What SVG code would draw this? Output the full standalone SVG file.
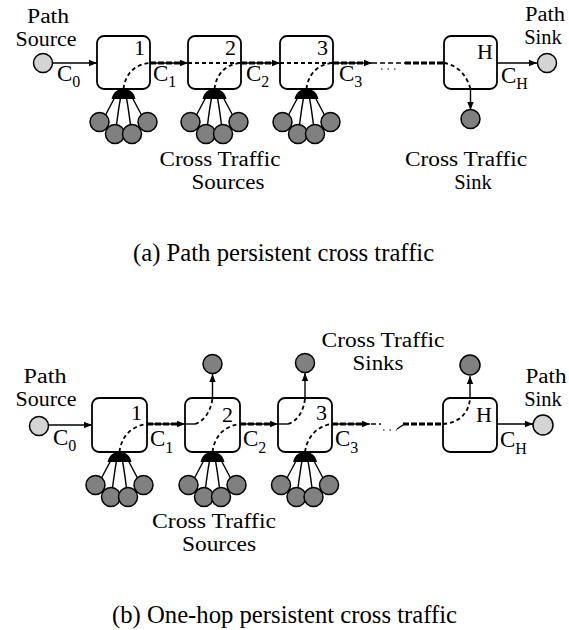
<svg xmlns="http://www.w3.org/2000/svg" xmlns:xlink="http://www.w3.org/1999/xlink" width="569" height="630" viewBox="0 0 569 630">
<style>
.box{fill:#fff;stroke:#000;stroke-width:1.8}
.src{fill:#808080;stroke:#000;stroke-width:1.5}
.end{fill:#d4d4d4;stroke:#000;stroke-width:1.5}
.ln{stroke:#000;stroke-width:1.4;fill:none}
.dsh{stroke:#000;stroke-width:1.8;fill:none;stroke-dasharray:4 3}
.lnk{stroke:#000;stroke-width:3;stroke-dasharray:6 2;fill:none}
.thin{stroke:#000;stroke-width:1.4;fill:none;stroke-dasharray:5 3}
.dots{stroke:#555;stroke-width:1.6;fill:none;stroke-dasharray:1.5 5}
text{font-family:"Liberation Serif","Times New Roman",serif;font-size:23px;fill:#000}
.lbl{font-size:20.5px}
.num{font-size:22px}
.cap{font-size:24.7px}
</style>
<defs>
<marker id="ah" viewBox="0 0 10 10" refX="10" refY="5" markerWidth="9" markerHeight="8" markerUnits="userSpaceOnUse" orient="auto">
<path d="M0,1 L10,5 L0,9 z" fill="#000"/>
</marker>
<g id="fan">
<path d="M-12,10 C-10,2 -5,0 0,0 C5,0 10,2 12,10 Z" fill="#000"/>
<path class="ln" d="M-9,9 L-18,26"/>
<path class="ln" d="M-3,9 Q-5,20 -7,36"/>
<path class="ln" d="M3,9 Q5,20 7,36"/>
<path class="ln" d="M9,9 L18,26"/>
<circle class="src" cx="-24" cy="33" r="9.5"/>
<circle class="src" cx="-8.5" cy="45" r="9.5"/>
<circle class="src" cx="8.5" cy="45" r="9.5"/>
<circle class="src" cx="24" cy="33" r="9.5"/>
</g>
</defs>

<!-- (a) Path persistent cross traffic -->
<g id="a-connectors">
<line class="ln" x1="52" y1="63" x2="97" y2="63" marker-end="url(#ah)"/>
<line class="ln" x1="150" y1="63" x2="188" y2="63" marker-end="url(#ah)"/>
<line class="lnk" x1="150" y1="63" x2="182" y2="63"/>
<line class="ln" x1="241" y1="63" x2="280" y2="63" marker-end="url(#ah)"/>
<line class="lnk" x1="241" y1="63" x2="274" y2="63"/>
<line class="ln" x1="333" y1="63" x2="372" y2="63" marker-end="url(#ah)"/>
<line class="lnk" x1="333" y1="63" x2="366" y2="63"/>
<line class="thin" x1="372" y1="63" x2="405" y2="63"/>
<line class="lnk" x1="405" y1="63" x2="444" y2="63"/>
<line class="dots" x1="381" y1="69" x2="398" y2="69"/>
<line class="ln" x1="497" y1="63" x2="537" y2="63" marker-end="url(#ah)"/>
<line class="ln" x1="470.5" y1="89" x2="470.5" y2="110" marker-end="url(#ah)"/>
</g>
<g id="a-source">
<circle class="end" cx="43" cy="63" r="9.5"/>
<text class="lbl" text-anchor="middle"><tspan x="48" y="23" textLength="42" lengthAdjust="spacingAndGlyphs">Path</tspan><tspan x="46" y="46" textLength="61" lengthAdjust="spacingAndGlyphs">Source</tspan></text>
<text x="57" y="81">C<tspan font-size="16" dy="6">0</tspan></text>
</g>
<g id="a-node1">
<rect class="box" x="97" y="36" width="53" height="53" rx="7"/>
<path class="dsh" d="M123.5,89 C125,75 134,64 150,63"/>
<text class="num" x="134" y="55">1</text>
<use xlink:href="#fan" x="123.5" y="89"/>
<text x="153" y="81">C<tspan font-size="16" dy="6">1</tspan></text>
</g>
<g id="a-node2">
<rect class="box" x="188" y="36" width="53" height="53" rx="7"/>
<line class="dsh" x1="188" y1="63" x2="241" y2="63"/>
<path class="dsh" d="M214.5,89 C216,75 225,64 241,63"/>
<text class="num" x="225" y="55">2</text>
<use xlink:href="#fan" x="214.5" y="89"/>
<text x="246" y="81">C<tspan font-size="16" dy="6">2</tspan></text>
</g>
<g id="a-node3">
<rect class="box" x="280" y="36" width="53" height="53" rx="7"/>
<line class="dsh" x1="280" y1="63" x2="333" y2="63"/>
<path class="dsh" d="M306.5,89 C308,75 317,64 333,63"/>
<text class="num" x="317" y="55">3</text>
<use xlink:href="#fan" x="306.5" y="89"/>
<text x="339" y="81">C<tspan font-size="16" dy="6">3</tspan></text>
</g>
<g id="a-nodeH">
<rect class="box" x="444" y="36" width="53" height="53" rx="7"/>
<path class="dsh" d="M444,63 C458,65 467,76 470.5,89"/>
<text class="num" x="477" y="59">H</text>
<text x="501" y="83">C<tspan font-size="16" dy="6">H</tspan></text>
</g>
<g id="a-sink">
<circle class="end" cx="547" cy="63" r="9.5"/>
<text class="lbl" text-anchor="middle"><tspan x="545" y="21" textLength="40" lengthAdjust="spacingAndGlyphs">Path</tspan><tspan x="543" y="44">Sink</tspan></text>
</g>
<g id="a-ctsink">
<circle class="src" cx="470.5" cy="119" r="9.5"/>
<text class="lbl" text-anchor="middle"><tspan x="466" y="166" textLength="122" lengthAdjust="spacingAndGlyphs">Cross Traffic</tspan><tspan x="473" y="189">Sink</tspan></text>
</g>
<g id="a-ctsources">
<text class="lbl" text-anchor="middle"><tspan x="220" y="166" textLength="121" lengthAdjust="spacingAndGlyphs">Cross Traffic</tspan><tspan x="228" y="189" textLength="73" lengthAdjust="spacingAndGlyphs">Sources</tspan></text>
</g>
<text class="cap" x="133" y="261">(a) Path persistent cross traffic</text>

<!-- (b) One-hop persistent cross traffic -->
<g id="b-connectors">
<line class="ln" x1="48" y1="425" x2="92" y2="425" marker-end="url(#ah)"/>
<line class="ln" x1="147" y1="424" x2="185" y2="424" marker-end="url(#ah)"/>
<line class="lnk" x1="147" y1="424" x2="179" y2="424"/>
<line class="ln" x1="240" y1="424" x2="278" y2="424" marker-end="url(#ah)"/>
<line class="lnk" x1="240" y1="424" x2="272" y2="424"/>
<line class="ln" x1="332" y1="424" x2="370" y2="424" marker-end="url(#ah)"/>
<line class="lnk" x1="332" y1="424" x2="364" y2="424"/>
<line class="thin" x1="371" y1="424" x2="381" y2="424"/>
<line class="dots" x1="383" y1="430" x2="397" y2="430"/>
<line class="ln" x1="397" y1="429" x2="403" y2="425"/>
<line class="lnk" x1="403" y1="424" x2="443" y2="424"/>
<line class="ln" x1="497" y1="424" x2="533" y2="424" marker-end="url(#ah)"/>
<line class="ln" x1="212.5" y1="398" x2="212.5" y2="374" marker-end="url(#ah)"/>
<line class="ln" x1="305" y1="398" x2="305" y2="373" marker-end="url(#ah)"/>
<line class="ln" x1="470" y1="398" x2="470" y2="376" marker-end="url(#ah)"/>
</g>
<g id="b-source">
<circle class="end" cx="39" cy="426" r="9.5"/>
<text class="lbl" text-anchor="middle"><tspan x="45" y="383" textLength="43" lengthAdjust="spacingAndGlyphs">Path</tspan><tspan x="46" y="406" textLength="61" lengthAdjust="spacingAndGlyphs">Source</tspan></text>
<text x="53" y="445">C<tspan font-size="16" dy="6">0</tspan></text>
</g>
<g id="b-node1">
<rect class="box" x="92" y="398" width="55" height="54" rx="7"/>
<path class="dsh" d="M119.5,452 C121,438 130,426 147,424"/>
<text class="num" x="131" y="420">1</text>
<use xlink:href="#fan" x="119.5" y="452"/>
<text x="150" y="446">C<tspan font-size="16" dy="7">1</tspan></text>
</g>
<g id="b-node2">
<rect class="box" x="185" y="398" width="55" height="54" rx="7"/>
<line class="ln" x1="185" y1="424" x2="195" y2="424"/>
<path class="dsh" d="M195,424 C203,422 211,412 212.5,398"/>
<path class="dsh" d="M212.5,452 C214,438 223,426 240,424"/>
<text class="num" x="222" y="422">2</text>
<use xlink:href="#fan" x="212.5" y="452"/>
<text x="243" y="446">C<tspan font-size="16" dy="7">2</tspan></text>
</g>
<g id="b-node3">
<rect class="box" x="278" y="398" width="54" height="54" rx="7"/>
<line class="ln" x1="278" y1="424" x2="288" y2="424"/>
<path class="dsh" d="M288,424 C296,422 304,412 305,398"/>
<path class="dsh" d="M305,452 C307,438 316,426 332,424"/>
<text class="num" x="316" y="420">3</text>
<use xlink:href="#fan" x="305" y="452"/>
<text x="335" y="446">C<tspan font-size="16" dy="7">3</tspan></text>
</g>
<g id="b-nodeH">
<rect class="box" x="443" y="398" width="54" height="54" rx="7"/>
<path class="dsh" d="M443,424 C458,423 469,414 470,398"/>
<text class="num" x="476" y="422">H</text>
<text x="500" y="447">C<tspan font-size="16" dy="7">H</tspan></text>
</g>
<g id="b-sinks">
<circle class="src" cx="212.5" cy="364" r="9.5"/>
<circle class="src" cx="305" cy="363" r="9.5"/>
<circle class="src" cx="470" cy="365" r="10"/>
<text class="lbl" text-anchor="middle"><tspan x="383" y="347" textLength="123" lengthAdjust="spacingAndGlyphs">Cross Traffic</tspan><tspan x="378" y="370" textLength="51" lengthAdjust="spacingAndGlyphs">Sinks</tspan></text>
</g>
<g id="b-pathsink">
<circle class="end" cx="543" cy="425" r="10"/>
<text class="lbl" text-anchor="middle"><tspan x="546" y="383" textLength="41" lengthAdjust="spacingAndGlyphs">Path</tspan><tspan x="543" y="406">Sink</tspan></text>
</g>
<g id="b-ctsources">
<text class="lbl" text-anchor="middle"><tspan x="214" y="528" textLength="124" lengthAdjust="spacingAndGlyphs">Cross Traffic</tspan><tspan x="219" y="551" textLength="74" lengthAdjust="spacingAndGlyphs">Sources</tspan></text>
</g>
<text class="cap" x="112" y="623">(b) One-hop persistent cross traffic</text>
</svg>
